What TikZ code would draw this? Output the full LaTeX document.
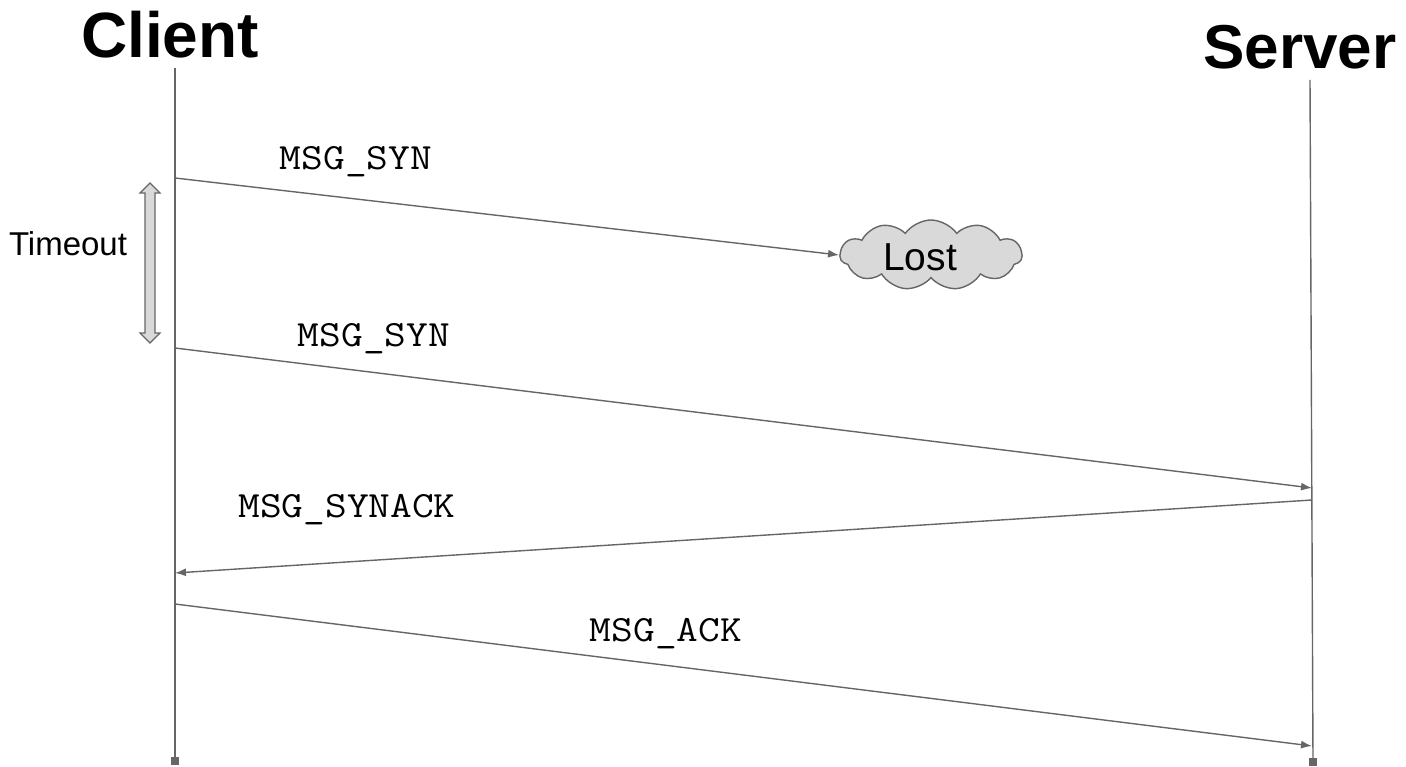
\documentclass[tikz,border=0pt]{standalone}
\usepackage{fontspec}
\setmainfont{Liberation Sans}
\setmonofont[FakeStretch=1.14]{Latin Modern Mono}
\usepackage{tikz}
\usetikzlibrary{arrows.meta,shapes.symbols}

\definecolor{linegray}{HTML}{666666}
\definecolor{fillgray}{HTML}{D9D9D9}

\tikzset{
  msg/.style={draw=linegray,line width=1.4pt,-{Latex[length=11pt,width=8pt]}},
  life/.style={draw=linegray,line width=1.4pt},
  lbl/.style={font=\ttfamily\fontsize{37}{37}\selectfont,inner sep=0pt},
  endmark/.style={fill=linegray,minimum size=8pt,inner sep=0pt}
}

\begin{document}
\begin{tikzpicture}
          [x=1pt,y=-1pt]
          \useasboundingbox (0,0) rectangle (1406,767);

          \node[font=\bfseries\fontsize{64}{64}\selectfont] (client) at (170,35) {Client};
          \node[font=\bfseries\fontsize{62}{62}\selectfont] (server) at (1300,47) {Server};

          % lifelines
          \node[endmark] (cend) at (175,761) {};
          \node[endmark] (send) at (1313,762) {};
          \coordinate (ctop) at (175,68);
          \coordinate (stop) at (1310,80);
          \draw[life] (ctop) -- (cend.center);
          \draw[life] (stop) -- (send.center);

          % message end points
          \coordinate (c1) at (175,178);
          \coordinate (c2) at (175,348);
          \coordinate (c3) at (175,573);
          \coordinate (c4) at (175,604);
          \coordinate (s2) at (1312,488);
          \coordinate (s3) at (1312,500);
          \coordinate (s4) at (1312,746);

          \node[cloud,cloud puffs=11,cloud puff arc=110,aspect=2.6,draw=linegray,
                line width=1.4pt,fill=fillgray,minimum width=182pt,minimum height=70pt,
                inner sep=0pt] (lost) at (931,255) {};
          \node[font=\fontsize{39}{39}\selectfont,inner sep=0pt] (lostlbl) at (920,257) {Lost};

          \foreach \from/\to in {c1/lost.west,c2/s2,s3/c3,c4/s4}
            \draw[msg] (\from) -- (\to);

          \node[lbl] (m1) at (356,162) {MSG\_SYN};
          \node[lbl] (m2) at (374,339) {MSG\_SYN};
          \node[lbl] (m3) at (347,510) {MSG\_SYNACK};
          \node[lbl] (m4) at (666,634) {MSG\_ACK};

          % timeout
          \node[font=\fontsize{33}{33}\selectfont] (tout) at (68,244) {Timeout};
          \draw[draw=linegray,line width=1.2pt,fill=fillgray,line join=miter]
            (150,183) -- (160,193) -- (155,193) -- (155,333) -- (160,333) -- (150,343)
            -- (140,333) -- (145,333) -- (145,193) -- (140,193) -- cycle;

        \end{tikzpicture}
\end{document}
